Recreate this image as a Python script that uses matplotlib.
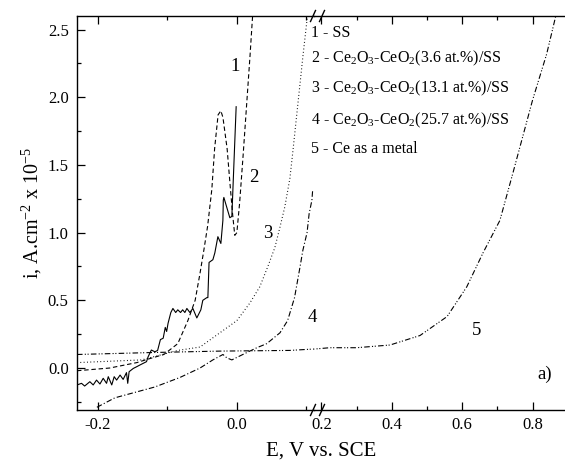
import matplotlib
matplotlib.use('Agg')
import matplotlib.pyplot as plt
from matplotlib.ticker import MultipleLocator
from matplotlib.lines import Line2D

plt.rcParams['font.family'] = ['Liberation Serif', 'DejaVu Serif']
plt.rcParams['mathtext.fontset'] = 'custom'
plt.rcParams['mathtext.rm'] = 'Liberation Serif'
plt.rcParams['mathtext.it'] = 'Liberation Serif:italic'
plt.rcParams['axes.unicode_minus'] = False

# --- polarisation curves: E (V vs. SCE), i (A/cm2 x 1e-5) ---
E_solid = [-0.230, -0.2235, -0.219, -0.2115, -0.2067, -0.2019, -0.197, -0.1923,
           -0.1875, -0.185, -0.180, -0.1765, -0.173, -0.168, -0.1636, -0.1588,
           -0.157, -0.155, -0.149, -0.144, -0.1396, -0.135, -0.130, -0.1276,
           -0.123, -0.118, -0.114, -0.110, -0.106, -0.103, -0.101, -0.099,
           -0.095, -0.092, -0.088, -0.085, -0.081, -0.078, -0.0748, -0.0719,
           -0.0676, -0.0633, -0.0576, -0.0518, -0.049, -0.0432, -0.0417, -0.040,
           -0.0345, -0.0317, -0.0273, -0.0230, -0.0201, -0.0195, -0.0187,
           -0.0101, -0.0072, -0.001]
i_solid = [-0.125, -0.113, -0.133, -0.101, -0.125, -0.089, -0.118, -0.076,
           -0.113, -0.064, -0.125, -0.064, -0.089, -0.052, -0.084, -0.034,
           -0.113, -0.027, -0.003, 0.010, 0.022, 0.034, 0.047, 0.084,
           0.133, 0.120, 0.130, 0.210, 0.220, 0.300, 0.270, 0.330,
           0.410, 0.440, 0.410, 0.430, 0.410, 0.430, 0.410, 0.440,
           0.410, 0.440, 0.370, 0.430, 0.500, 0.520, 0.520, 0.780,
           0.800, 0.850, 0.970, 0.920, 1.090, 1.240, 1.260,
           1.110, 1.120, 1.930]

E_dash = [-0.230, -0.183, -0.144, -0.125, -0.105, -0.085, -0.0705, -0.060,
          -0.053, -0.0475, -0.042, -0.036, -0.032, -0.027, -0.023, -0.020,
          -0.014, -0.010, -0.006, -0.003, 0.000, 0.004, 0.009, 0.014, 0.019,
          0.022, 0.024]
i_dash = [-0.02, 0.00, 0.04, 0.07, 0.10, 0.18, 0.35, 0.50,
          0.70, 0.87, 1.05, 1.32, 1.62, 1.87, 1.90, 1.85,
          1.62, 1.37, 1.13, 0.98, 1.00, 1.22, 1.57, 1.94, 2.31,
          2.55, 2.70]

E_dot = [-0.230, -0.137, -0.085, -0.053, -0.0245, 0.000, 0.0187, 0.033,
         0.0446, 0.0547, 0.062, 0.069, 0.0763, 0.0806, 0.0878, 0.095, 0.102]
i_dot = [0.04, 0.06, 0.13, 0.155, 0.26, 0.35, 0.48, 0.60,
         0.75, 0.89, 1.04, 1.19, 1.40, 1.60, 1.95, 2.30, 2.62]

E_dashdot = [-0.2014, -0.1755, -0.118, -0.082, -0.053, -0.0345, -0.020,
             -0.0144, -0.0072, 0.0086, 0.0288, 0.043, 0.062, 0.073, 0.083,
             0.091, 0.095, 0.101, 0.104, 0.108, 0.109]
i_dashdot = [-0.29, -0.22, -0.14, -0.07, 0.00, 0.06, 0.10,
             0.075, 0.06, 0.10, 0.15, 0.18, 0.26, 0.35, 0.52,
             0.75, 0.87, 1.00, 1.14, 1.24, 1.31]

E_ce = [-0.230, -0.118, -0.0245, 0.076, 0.109, 0.179, 0.224, 0.300, 0.395,
        0.480, 0.557, 0.613, 0.659, 0.707, 0.744, 0.800, 0.840, 0.863, 0.875]
i_ce = [0.10, 0.115, 0.125, 0.13, 0.14, 0.14, 0.15, 0.15, 0.17,
        0.24, 0.38, 0.60, 0.85, 1.09, 1.44, 1.98, 2.32, 2.57, 2.70]

legend_labels = ['1 - SS',
                 '2 - Ce$_2$O$_3$-CeO$_2$(3.6 at.%)/SS',
                 '3 - Ce$_2$O$_3$-CeO$_2$(13.1 at.%)/SS',
                 '4 - Ce$_2$O$_3$-CeO$_2$(25.7 at.%)/SS',
                 '5 - Ce as a metal']

curves = [
    (E_solid, i_solid, dict(ls='-')),
    (E_dash, i_dash, dict(ls=(0, (4, 2.5)))),
    (E_dot, i_dot, dict(ls=(0, (0.8, 2.2)))),
    (E_dashdot, i_dashdot, dict(ls=(0, (5, 2, 1, 2)))),
    (E_ce, i_ce, dict(ls=(0, (5, 2, 1, 1.5, 1, 2)))),
]

W, H = 565, 461
fig = plt.figure(figsize=(W / 100, H / 100), dpi=100)
x0, xb, y0, y1 = 77, 314, 410, 16
axL = fig.add_axes([x0 / W, 1 - y0 / H, (xb - x0) / W, (y0 - y1) / H])
axR = fig.add_axes([xb / W, 1 - y0 / H, 1 - xb / W, (y0 - y1) / H], sharey=axL)

for ax in (axL, axR):
    ax.set_facecolor('none')
    for E, i, st in curves:
        ax.plot(E, i, color='black', lw=0.8, **st)
    ax.spines['right'].set_visible(False)
    for s in ax.spines.values():
        s.set_linewidth(1.0)
    ax.xaxis.set_major_locator(MultipleLocator(0.2))
    ax.xaxis.set_minor_locator(MultipleLocator(0.1))
    ax.tick_params(axis='x', which='both', direction='in', top=True, bottom=True,
                   labelsize=12, pad=5)
    ax.tick_params(axis='x', which='major', length=6, width=0.9)
    ax.tick_params(axis='x', which='minor', length=3, width=0.9)

axL.set_xlim(-0.23, 0.111)
axR.set_xlim(0.179, 0.892)
axL.set_ylim(-0.31, 2.6)
axL.yaxis.set_major_locator(MultipleLocator(0.5))
axL.yaxis.set_minor_locator(MultipleLocator(0.25))
axL.tick_params(axis='y', which='both', direction='in', labelsize=12, pad=6)
axL.tick_params(axis='y', which='major', length=6, width=0.9)
axL.tick_params(axis='y', which='minor', length=3, width=0.9)
axR.spines['left'].set_visible(False)
axR.tick_params(axis='y', which='both', left=False, labelleft=False)

axL.set_ylabel('i, A.cm$^{-2}$ x 10$^{-5}$', fontsize=14.5, labelpad=3)
fig.text(321 / W, 1 - 451 / H, 'E, V vs. SCE', fontsize=15,
         ha='center', va='center')

# curve numbers and panel tag
axL.text(-0.003, 2.23, '1', fontsize=13.5, ha='center', va='center')
axL.text(0.025, 1.41, '2', fontsize=13.5, ha='center', va='center')
axL.text(0.044, 0.99, '3', fontsize=13.5, ha='center', va='center')
axL.text(0.108, 0.37, '4', fontsize=13.5, ha='center', va='center')
axR.text(0.642, 0.28, '5', fontsize=13.5, ha='center', va='center')
axR.text(0.835, -0.05, 'a)', fontsize=13.5, ha='center', va='center')

# legend as plain text lines
for lab, yp in zip(legend_labels, [33, 58, 88, 120, 149]):
    fig.text(311 / W, 1 - yp / H, lab, fontsize=11.5, ha='left', va='center')

# axis break marks
for yc in (y0, y1):
    for xc in (313, 322):
        fig.add_artist(Line2D([(xc - 2.5) / W, (xc + 2.5) / W],
                              [1 - (yc + 5.5) / H, 1 - (yc - 5.5) / H],
                              color='black', lw=1.0, transform=fig.transFigure))

fig.savefig('out.png', dpi=100)
